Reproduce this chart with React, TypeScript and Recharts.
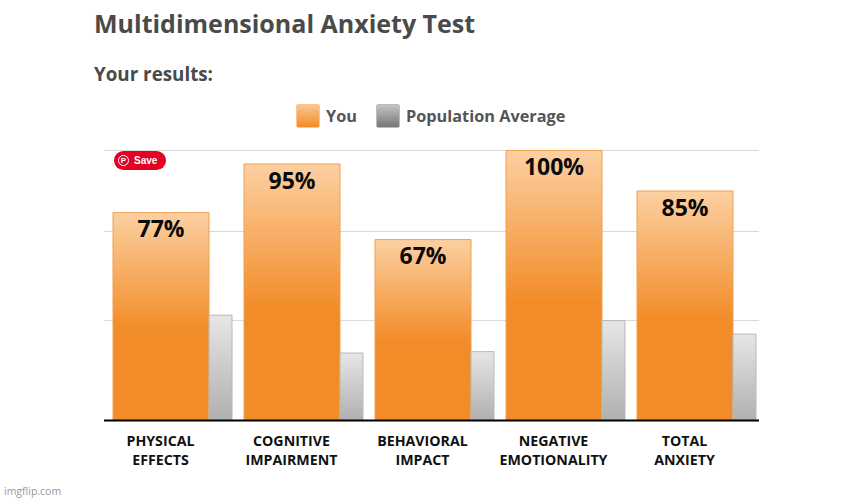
import { BarChart, Bar, XAxis, YAxis, CartesianGrid, LabelList } from 'recharts';

const categories = ['PHYSICAL EFFECTS', 'COGNITIVE IMPAIRMENT', 'BEHAVIORAL IMPACT', 'NEGATIVE EMOTIONALITY', 'TOTAL ANXIETY'];
const youValues = [77, 95, 67, 100, 85];
const averageValues = [39, 25, 25.5, 37, 32];
const gridValues = [37, 70, 100];

const chartData = categories.map((name, i) => ({ name, you: youValues[i], average: averageValues[i] }));

const FONT = '"Open Sans", sans-serif';

// two-line category label, sits under the orange bar rather than the group centre
// eslint-disable-next-line @typescript-eslint/no-explicit-any
const CategoryTick = ({ x, y, payload }: any) => {
  const lines = String(payload.value).split(' ');
  return (
    <text x={x - 12} y={y} textAnchor="middle" fontFamily={FONT} fontSize={14.2} fontWeight={700} fill="#111">
      {lines.map((line, i) => (
        <tspan key={i} x={x - 12} dy={i === 0 ? 17 : 19}>
          {line}
        </tspan>
      ))}
    </text>
  );
};

const Swatch = ({ from, to, border }: { from: string; to: string; border: string }) => (
  <div
    style={{
      width: 22,
      height: 22,
      borderRadius: 2,
      border: `1px solid ${border}`,
      background: `linear-gradient(${from}, ${to})`,
    }}
  />
);

export default function App() {
  return (
    <div style={{ position: 'absolute', left: 0, top: 0, width: 857, height: 500, background: '#fff', overflow: 'hidden', fontFamily: FONT }}>
      <div style={{ position: 'absolute', left: 94, top: 6, fontSize: 25, fontWeight: 700, color: '#4a4a4a', whiteSpace: 'nowrap' }}>
        Multidimensional Anxiety Test
      </div>
      <div style={{ position: 'absolute', left: 94, top: 61, fontSize: 18.8, fontWeight: 700, color: '#4a4a4a', whiteSpace: 'nowrap' }}>
        Your results:
      </div>

      {/* Legend */}
      <div style={{ position: 'absolute', left: 296, top: 104 }}>
        <Swatch from="#fbc78f" to="#f28c28" border="#fbc78f" />
      </div>
      <div style={{ position: 'absolute', left: 326, top: 105, fontSize: 16.3, fontWeight: 700, color: '#555' }}>You</div>
      <div style={{ position: 'absolute', left: 376, top: 104 }}>
        <Swatch from="#c4c4c4" to="#777" border="#bbb" />
      </div>
      <div style={{ position: 'absolute', left: 406, top: 105, fontSize: 16.3, fontWeight: 700, color: '#555', whiteSpace: 'nowrap' }}>
        Population Average
      </div>

      <div style={{ position: 'absolute', left: 0, top: 0 }}>
        <BarChart
          width={857}
          height={500}
          data={chartData}
          margin={{ top: 150.5, right: 98, bottom: 0, left: 104 }}
          barCategoryGap={0}
          barGap={0}
        >
          <defs>
            <linearGradient id="youFill" x1="0" y1="0" x2="0" y2="1">
              <stop offset="0%" stopColor="#fcd0a2" />
              <stop offset="56%" stopColor="#f28c28" />
              <stop offset="100%" stopColor="#f28c28" />
            </linearGradient>
            <linearGradient id="avgFill" x1="0" y1="0" x2="0" y2="1">
              <stop offset="0%" stopColor="#e6e6e6" />
              <stop offset="100%" stopColor="#b0b0b0" />
            </linearGradient>
          </defs>
          <CartesianGrid vertical={false} stroke="#d9d9d9" horizontalValues={gridValues} />
          <XAxis
            dataKey="name"
            interval={0}
            height={79.5}
            tick={<CategoryTick />}
            tickLine={false}
            axisLine={{ stroke: '#000', strokeWidth: 2 }}
            padding={{ left: 3, right: -3 }}
          />
          <YAxis hide domain={[0, 100]} ticks={gridValues} />
          <Bar dataKey="you" barSize={96} fill="url(#youFill)" stroke="#f0a050" isAnimationActive={false}>
            <LabelList
              dataKey="you"
              position="insideTop"
              offset={8.5}
              formatter={(v: number) => `${v}%`}
              style={{ fontFamily: FONT, fontSize: 23, fontWeight: 700, fill: '#0a0a0a' }}
            />
          </Bar>
          <Bar dataKey="average" barSize={23} fill="url(#avgFill)" stroke="#b8b8b8" isAnimationActive={false} />
        </BarChart>
      </div>

      {/* Pinterest save button */}
      <div
        style={{
          position: 'absolute',
          left: 114,
          top: 151,
          width: 52,
          height: 19,
          borderRadius: 10,
          background: '#e60023',
          color: '#fff',
          fontFamily: '"Liberation Sans", sans-serif',
          fontSize: 10,
          fontWeight: 700,
          lineHeight: '19px',
        }}
      >
        <div style={{ position: 'absolute', left: 4, top: 4, width: 9, height: 9, border: '1px solid #fff', borderRadius: '50%', fontSize: 8, lineHeight: '9px', textAlign: 'center' }}>
          P
        </div>
        <span style={{ position: 'absolute', left: 20 }}>Save</span>
      </div>

      <div style={{ position: 'absolute', left: 4, top: 484, fontSize: 10.5, color: '#999', whiteSpace: 'nowrap' }}>imgflip.com</div>
    </div>
  );
}
